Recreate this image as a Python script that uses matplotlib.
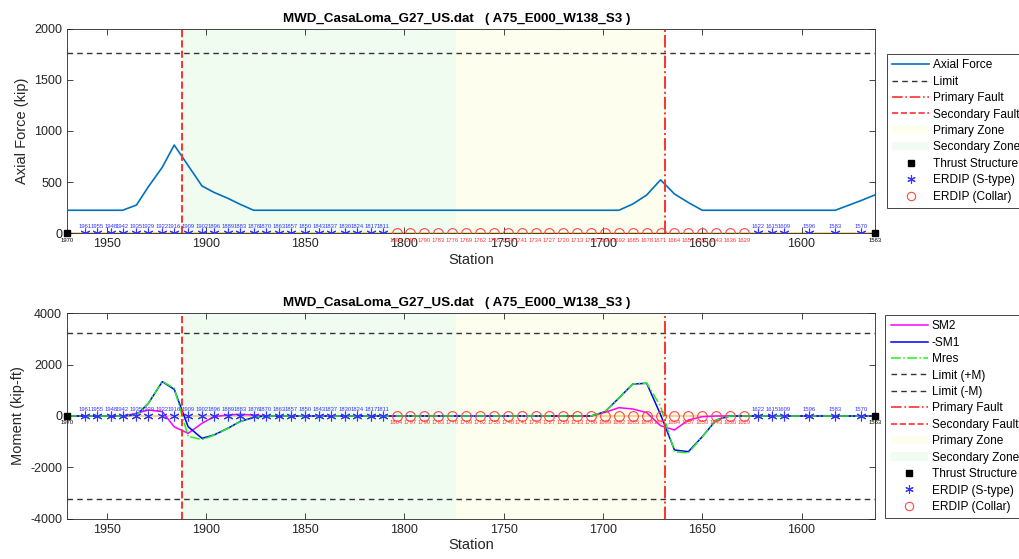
import matplotlib
matplotlib.use("Agg")
import matplotlib.pyplot as plt
from matplotlib.patches import Patch
from matplotlib.lines import Line2D

plt.rcParams['font.family'] = ['Liberation Sans', 'DejaVu Sans']
plt.rcParams['axes.unicode_minus'] = False

title = "MWD_CasaLoma_G27_US.dat   ( A75_E000_W138_S3 )"

# stations of the markers
thrust_sta = [1970, 1563]
stype_sta = [1961, 1955, 1948, 1942, 1935, 1929, 1922, 1916, 1909, 1902, 1896, 1889,
             1883, 1876, 1870, 1863, 1857, 1850, 1843, 1837, 1830, 1824, 1817, 1811,
             1622, 1615, 1609, 1596, 1583, 1570]
collar_sta = [1804, 1797, 1790, 1783, 1776, 1769, 1762, 1755, 1748, 1741, 1734, 1727,
              1720, 1713, 1706, 1699, 1692, 1685, 1678, 1671, 1664, 1657, 1650, 1643,
              1636, 1629]

primary_fault = 1669
secondary_fault = 1912
primary_zone = (1669, 1774)
secondary_zone = (1774, 1912)

axial_limit = 1760
moment_limit = 3245

# axial force (kip)
axial_sta = [1970, 1942, 1935, 1929, 1922, 1916, 1909, 1902, 1896, 1889, 1883, 1876,
             1692, 1685, 1678, 1671, 1664, 1657, 1650, 1583, 1570, 1563]
axial_val = [225, 225, 276, 455, 645, 862, 662, 462, 400, 342, 285, 225,
             225, 286, 374, 522, 384, 300, 225, 225, 320, 375]

# moments (kip-ft)
mom_sta = [1970, 1942, 1935, 1929, 1922, 1916, 1909, 1902, 1896, 1889, 1883, 1876, 1870,
           1706, 1699, 1692, 1685, 1678, 1671, 1664, 1657, 1650, 1643, 1636, 1563]
sm2 = [0, 0, 104, 234, 169, -420, -675, -285, -26, 40, 65, 39, 0,
       0, 143, 324, 273, 130, -380, -545, -156, -27, 0, 0, 0]
neg_sm1 = [0, 0, 40, 494, 1337, 1039, -416, -870, -740, -480, -221, -52, 0,
           0, 168, 700, 1246, 1273, 50, -1324, -1390, -805, -156, 0, 0]
mres = [0, 0, 40, 494, 1350, 1080, -790, -920, -750, -485, -225, -55, 0,
        0, 175, 705, 1250, 1280, 380, -1390, -1440, -810, -160, 0, 0]

axc = '#262626'
red = '#FF3030'
ycol = '#FEFEEE'
gcol = '#F0FCF0'

fig = plt.figure(figsize=(10.19, 5.59), dpi=100)
W, H = 1019, 559
ax1 = fig.add_axes([67 / W, 1 - 233.3 / H, 808 / W, 204.8 / H])
ax2 = fig.add_axes([67 / W, 1 - 518.7 / H, 808 / W, 205.4 / H])


def common(ax, ylim, yticks, ylabel):
    ax.axvspan(*primary_zone, color=ycol, lw=0, zorder=0)
    ax.axvspan(*secondary_zone, color=gcol, lw=0, zorder=0)
    ax.axhline(0, color='#EDB120', lw=1.2, alpha=0.6, zorder=1.5, clip_on=False)
    ax.set_xlim(1970, 1563)
    ax.set_ylim(*ylim)
    ax.set_yticks(yticks)
    ax.set_xticks([1950, 1900, 1850, 1800, 1750, 1700, 1650, 1600])
    ax.tick_params(direction='in', top=True, right=True, length=4, width=0.6,
                   colors=axc, labelsize=9)
    for sp in ax.spines.values():
        sp.set_color(axc)
        sp.set_linewidth(0.6)
    ax.set_xlabel("Station", fontsize=10.5, color=axc, labelpad=2)
    ax.set_ylabel(ylabel, fontsize=10.5, color=axc)
    ax.set_title(title, fontsize=9.6, fontweight='bold', x=0.482, pad=5)


def markers(ax):
    ax.plot(thrust_sta, [0] * len(thrust_sta), 's', color='k', ms=5, zorder=5, clip_on=False)
    ax.plot(stype_sta, [0] * len(stype_sta), ls='none', marker=(6, 2, 0), color='#3535FF',
            ms=7, mew=0.8, zorder=5)
    ax.plot(collar_sta, [0] * len(collar_sta), 'o', mfc='none', mec='#FF4545', ms=7,
            mew=0.8, zorder=5)
    for s in stype_sta:
        ax.annotate(str(s), (s, 0), xytext=(0, 5), textcoords='offset points', ha='center',
                    va='center', fontsize=4.2, color='#3535FF', zorder=6)
    for s in collar_sta:
        ax.annotate(str(s), (s, 0), xytext=(0, -5), textcoords='offset points', ha='center',
                    va='center', fontsize=4.2, color='#FF3535', zorder=6)
    for s in thrust_sta:
        ax.annotate(str(s), (s, 0), xytext=(0, -5), textcoords='offset points', ha='center',
                    va='center', fontsize=4.2, color='k', zorder=6, annotation_clip=False)


def faults(ax):
    ax.axvline(primary_fault, color=red, ls='-.', lw=1.4, zorder=4)
    ax.axvline(secondary_fault, color=red, ls='--', lw=1.4, zorder=4)


# top: axial force
common(ax1, (0, 2000), [0, 500, 1000, 1500, 2000], "Axial Force (kip)")
ax1.plot(axial_sta, axial_val, color='#0072BD', lw=1.2, zorder=3)
ax1.axhline(axial_limit, color='#333333', ls='--', lw=1, dashes=(4, 3), zorder=2)
faults(ax1)
markers(ax1)

# bottom: moments
common(ax2, (-4000, 4000), [-4000, -2000, 0, 2000, 4000], "Moment (kip-ft)")
ax2.plot(mom_sta, sm2, color='#FF00FF', lw=1.1, zorder=3)
ax2.plot(mom_sta, neg_sm1, color='#0000FF', lw=1.1, zorder=3)
ax2.plot(mom_sta, mres, color='#22EE22', lw=1.1, ls='-.', zorder=3)
ax2.axhline(moment_limit, color='#333333', ls='--', lw=1, dashes=(4, 3), zorder=2)
ax2.axhline(-moment_limit, color='#333333', ls='--', lw=1, dashes=(4, 3), zorder=2)
faults(ax2)
markers(ax2)

# legends
h_fault_p = Line2D([], [], color=red, ls='-.', lw=1.2)
h_fault_s = Line2D([], [], color=red, ls='--', lw=1.2)
h_zone_p = Patch(facecolor=ycol, edgecolor='none')
h_zone_s = Patch(facecolor=gcol, edgecolor='none')
h_thr = Line2D([], [], ls='none', marker='s', color='k', ms=5)
h_st = Line2D([], [], ls='none', marker=(6, 2, 0), color='#3535FF', ms=6, mew=0.8)
h_col = Line2D([], [], ls='none', marker='o', mfc='none', mec='#FF4545', ms=6, mew=0.8)
h_lim = Line2D([], [], color='#333333', ls='--', lw=1, dashes=(4, 3))

leg_kw = dict(loc='upper left', bbox_transform=fig.transFigure, borderaxespad=0,
              fontsize=8.6, labelspacing=0.37, handlelength=3.1, handletextpad=0.35,
              borderpad=0.45, fancybox=False, framealpha=1, edgecolor='#262626',
              numpoints=1)

l1 = fig.legend([Line2D([], [], color='#0072BD', lw=1.2), h_lim, h_fault_p, h_fault_s,
                 h_zone_p, h_zone_s, h_thr, h_st, h_col],
                ['Axial Force', 'Limit', 'Primary Fault', 'Secondary Fault', 'Primary Zone',
                 'Secondary Zone', 'Thrust Structure', 'ERDIP (S-type)', 'ERDIP (Collar)'],
                bbox_to_anchor=(886.7 / W, 1 - 54 / H), **leg_kw)
l1.get_frame().set_linewidth(0.6)

l2 = fig.legend([Line2D([], [], color='#FF00FF', lw=1.1), Line2D([], [], color='#0000FF', lw=1.1),
                 Line2D([], [], color='#22EE22', lw=1.1, ls='-.'), h_lim, h_lim, h_fault_p,
                 h_fault_s, h_zone_p, h_zone_s, h_thr, h_st, h_col],
                ['SM2', '-SM1', 'Mres', 'Limit (+M)', 'Limit (-M)', 'Primary Fault',
                 'Secondary Fault', 'Primary Zone', 'Secondary Zone', 'Thrust Structure',
                 'ERDIP (S-type)', 'ERDIP (Collar)'],
                bbox_to_anchor=(885.3 / W, 1 - 315 / H), **leg_kw)
l2.get_frame().set_linewidth(0.6)

fig.savefig("out.png", dpi=100)
